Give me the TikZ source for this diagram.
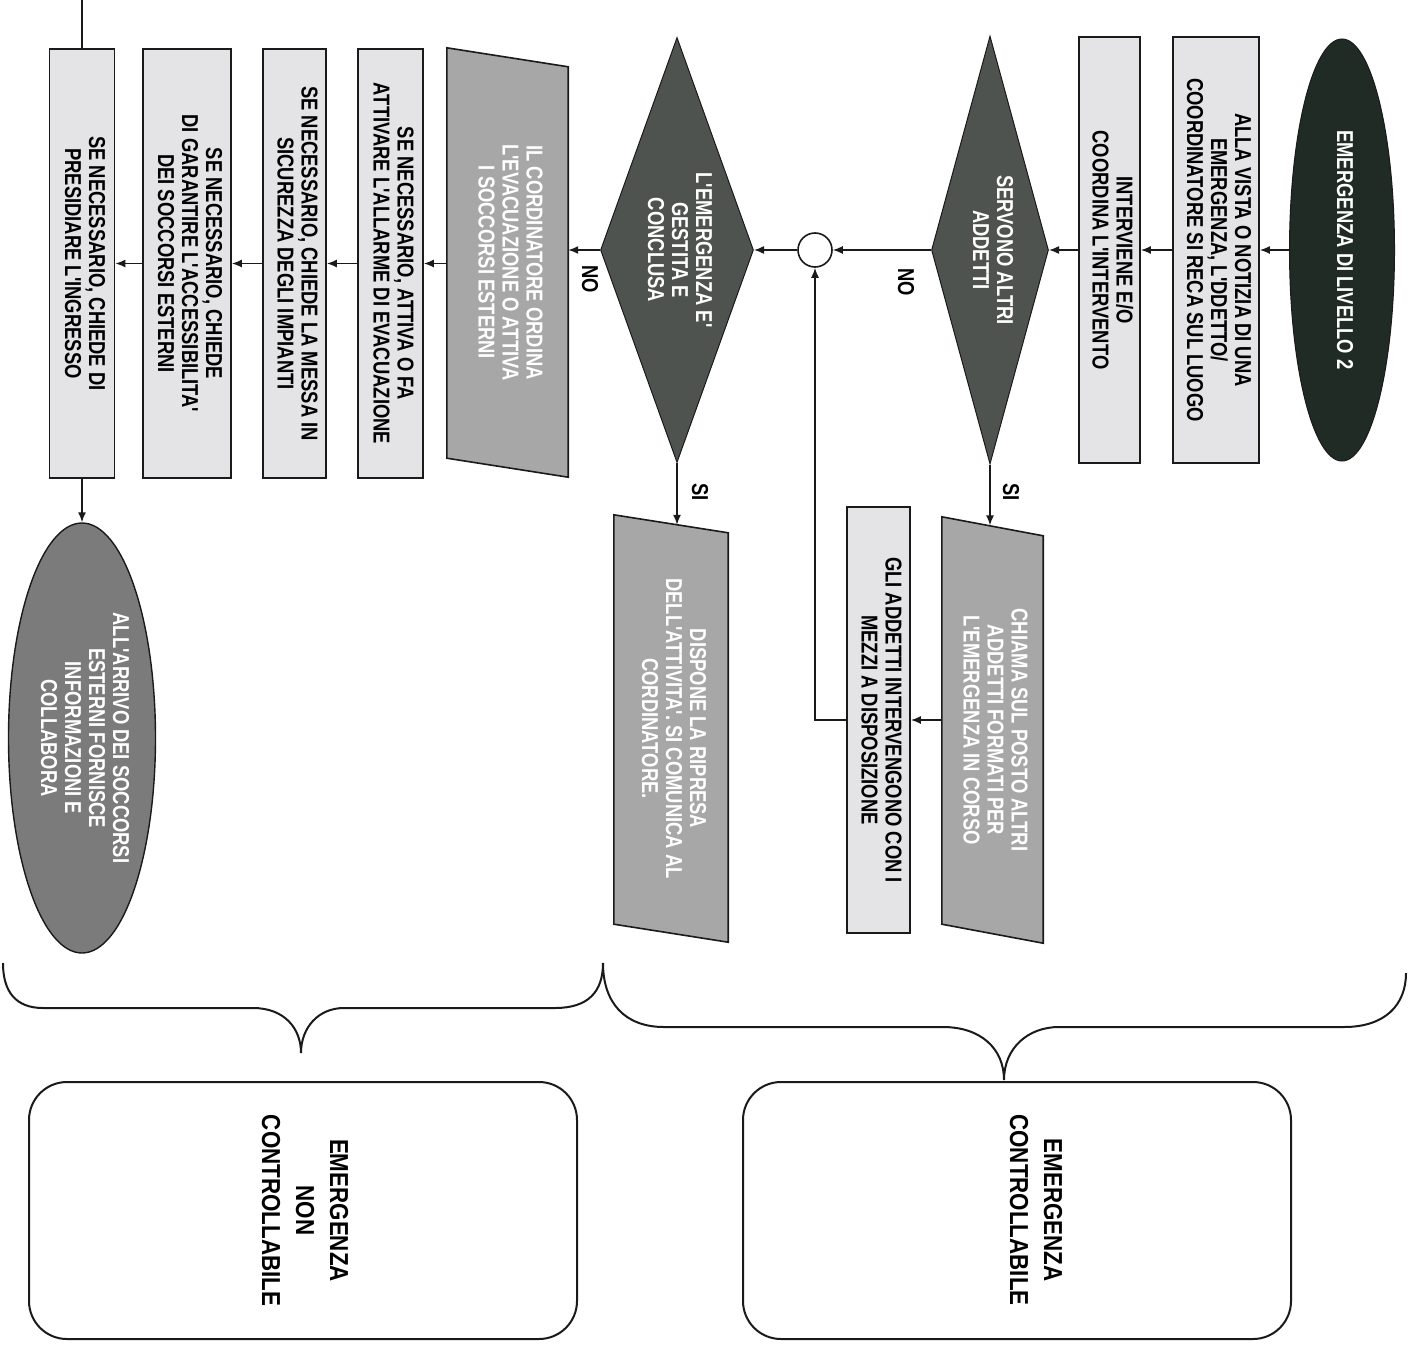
\documentclass[tikz,border=0pt]{standalone}
\usepackage{fontspec}
\usepackage{graphicx}
\usetikzlibrary{shapes.geometric,arrows.meta,backgrounds,calc}
\newfontfamily\nar{Liberation Sans}[FakeStretch=0.8]
\newfontfamily\wid{Liberation Sans}[FakeStretch=0.86]
\definecolor{boxgrey}{HTML}{E4E4E6}
\definecolor{darkell}{HTML}{1F2B24}
\definecolor{diagrey}{HTML}{4E5350}
\definecolor{paragrey}{HTML}{A7A7A7}
\definecolor{ellgrey}{HTML}{7B7B7B}
\definecolor{linecol}{HTML}{1A1A1A}
\newcommand\vt[1]{\rotatebox{-90}{\begin{tabular}{@{}c@{}}#1\end{tabular}}}
\begin{document}
\begin{tikzpicture}[x=1pt,y=-1pt,
  txt/.style={font=\nar\bfseries\fontsize{23}{24}\selectfont, inner sep=0pt},
  stepbox/.style={txt, rectangle, draw=linecol, line width=1.8pt, fill=boxgrey, text=black},
  decision/.style={txt, diamond, draw=linecol, line width=1pt, fill=diagrey, text=white},
  pnode/.style={txt, rectangle, draw=none, text=white},
  parashape/.style={draw=linecol, line width=1.6pt, fill=paragrey},
  termdark/.style={txt, ellipse, draw=linecol, line width=1pt, fill=darkell, text=white},
  termgrey/.style={txt, ellipse, draw=linecol, line width=1.4pt, fill=ellgrey, text=white},
  junction/.style={circle, draw=linecol, line width=1.6pt, fill=white, minimum size=34pt, inner sep=0pt},
  lbl/.style={txt, text=black},
  rbox/.style={rectangle, rounded corners=38pt, draw=linecol, line width=2pt, minimum width=548pt, minimum height=257pt, inner sep=0pt},
  rtxt/.style={font=\wid\bfseries\fontsize{26}{34}\selectfont, inner sep=0pt, text=black},
  conn/.style={draw=linecol, line width=1.5pt},
  arr/.style={conn, -{Latex[length=10pt,width=8pt]}},
  bracel/.style={draw=linecol, line width=2pt}
]
\useasboundingbox (0,0) rectangle (1416,1346);

% first row
\node[termdark, minimum width=105pt, minimum height=422pt] (e1) at (1342,250) {\vt{EMERGENZA DI LIVELLO 2}};
\node[stepbox, minimum width=86pt, minimum height=426pt] (b1) at (1216,250) {\vt{ALLA VISTA O NOTIZIA DI UNA\\EMERGENZA, L'DDETTO/\\COORDINATORE SI RECA SUL LUOGO}};
\node[stepbox, minimum width=61pt, minimum height=426pt] (b2) at (1109.5,250) {\vt{INTERVIENE E/O\\COORDINA L'INTERVENTO}};
\node[decision, minimum width=117pt, minimum height=428pt, aspect=0.273] (d1) at (990,250) {\vt{SERVONO ALTRI\\ADDETTI}};
\node[junction] (c) at (815,250) {};
\node[decision, minimum width=153pt, minimum height=425pt, aspect=0.36] (d2) at (677,250) {\vt{L'EMERGENZA E'\\GESTITA E\\CONCLUSA}};
\node[pnode, minimum width=121pt, minimum height=429pt] (p1) at (507.5,262.5) {\vt{IL CORDINATORE ORDINA\\L'EVACUAZIONE O ATTIVA\\I SOCCORSI ESTERNI}};
\node[stepbox, minimum width=65pt, minimum height=429pt] (b3) at (390.5,263.5) {\vt{SE NECESSARIO, ATTIVA O FA\\ATTIVARE L'ALLARME DI EVACUAZIONE}};
\node[stepbox, minimum width=63pt, minimum height=429pt] (b4) at (294.5,263.5) {\vt{SE NECESSARIO, CHIEDE LA MESSA IN\\SICUREZZA DEGLI IMPIANTI}};
\node[stepbox, minimum width=88pt, minimum height=429pt] (b5) at (187,263.5) {\vt{SE NECESSARIO, CHIEDE\\DI GARANTIRE L'ACCESSIBILITA'\\DEI SOCCORSI ESTERNI}};
\node[stepbox, minimum width=65pt, minimum height=429pt] (b6) at (82,263.5) {\vt{SE NECESSARIO, CHIEDE DI\\PRESIDIARE L'INGRESSO}};
\node[termgrey, minimum width=147pt, minimum height=430pt] (e2) at (82,738) {\vt{ALL'ARRIVO DEI SOCCORSI\\ESTERNI FORNISCE\\INFORMAZIONI E\\COLLABORA}};

% second row
\node[pnode, minimum width=101pt, minimum height=426pt] (p2) at (992.5,730) {\vt{CHIAMA SUL POSTO ALTRI\\ADDETTI FORMATI PER\\L'EMERGENZA IN CORSO}};
\node[stepbox, minimum width=63pt, minimum height=426pt] (b7) at (878.5,720) {\vt{GLI ADDETTI INTERVENGONO CON I\\MEZZI A DISPOSIZIONE}};
\node[pnode, minimum width=114pt, minimum height=427pt] (p3) at (671,728.5) {\vt{DISPONE LA RIPRESA\\DELL'ATTIVITA'. SI COMUNICA AL\\CORDINATORE.}};

% parallelogram outlines
\begin{scope}[on background layer]
\draw[parashape] (p1.north west) -- ([yshift=-19pt]p1.north east) -- (p1.south east) -- ([yshift=19pt]p1.south west) -- cycle;
\draw[parashape] (p2.north west) -- ([yshift=-19pt]p2.north east) -- (p2.south east) -- ([yshift=19pt]p2.south west) -- cycle;
\draw[parashape] (p3.north west) -- ([yshift=-18pt]p3.north east) -- (p3.south east) -- ([yshift=18pt]p3.south west) -- cycle;
\end{scope}

% labels
\node[lbl] (no1) at (906,282) {\rotatebox{-90}{NO}};
\node[lbl] (no2) at (590,279) {\rotatebox{-90}{NO}};
\node[lbl] (si1) at (1011,492) {\rotatebox{-90}{SI}};
\node[lbl] (si2) at (700,492) {\rotatebox{-90}{SI}};

% connectors
\draw[arr] (e1.west) -- (b1.east);
\draw[arr] (b1.west) -- (b2.east);
\draw[arr] (b2.west) -- (d1.east);
\draw[arr] (d1.west) -- (c.east);
\draw[arr] (c.west) -- (d2.east);
\draw[arr] (d2.west) -- (d2.west -| p1.east);
\draw[arr] (b3.east -| p1.west) -- (b3.east);
\draw[arr] (b3.west) -- (b4.east);
\draw[arr] (b4.west) -- (b5.east);
\draw[arr] (b5.west) -- (b6.east);
\draw[arr] (b6.south) -- (e2.north);
\coordinate (topin) at (82,0);
\draw[conn] (topin) -- (b6.north);
\coordinate (p2top) at ([yshift=-8.6pt]p2.north);
\coordinate (p3top) at ([yshift=-10pt]p3.north);
\draw[arr] (d1.south) -- (d1.south |- p2top);
\draw[arr] (d2.south) -- (d2.south |- p3top);
\draw[arr] (b7.east -| p2.west) -- (b7.east);
\draw[arr] (b7.west) -| (c.south);

% braces
\draw[bracel] (3,963) .. controls (3,992) and (16,1008) .. (43,1008) -- (253,1008)
  .. controls (284,1008) and (301,1028) .. (301,1053)
  .. controls (301,1028) and (318,1008) .. (344,1008) -- (555,1008)
  .. controls (588,1008) and (603,992) .. (603,963);
\draw[bracel] (603,963) .. controls (603,1003) and (625,1027) .. (664,1027) -- (943,1027)
  .. controls (980,1027) and (1004,1048) .. (1004,1080)
  .. controls (1004,1048) and (1028,1027) .. (1059,1027) -- (1344,1027)
  .. controls (1385,1027) and (1406,1005) .. (1406,973);

% category boxes
\node[rbox, rtxt] (r1) at (303,1210.5) {\vt{EMERGENZA\\NON\\CONTROLLABILE}};
\node[rbox] (r2) at (1017,1210.5) {};
\node[rtxt] (t2) at (1034,1210) {\vt{EMERGENZA\\CONTROLLABILE}};
\end{tikzpicture}
\end{document}
